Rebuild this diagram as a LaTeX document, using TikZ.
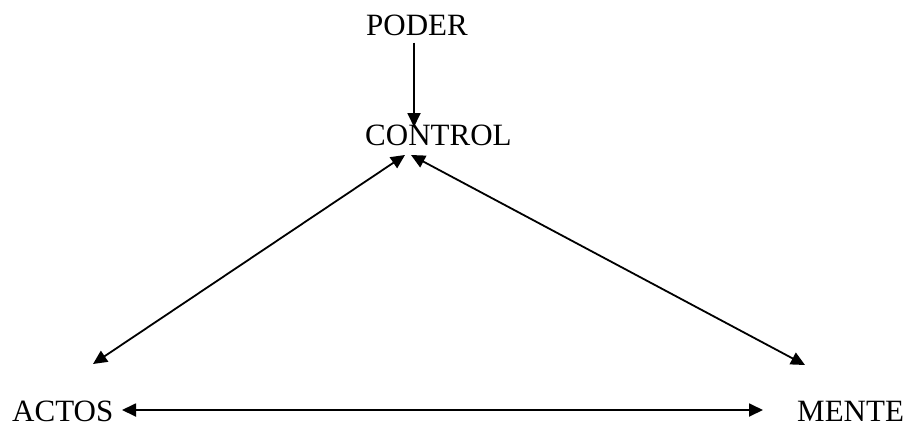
\documentclass[tikz,border=0pt]{standalone}
\usepackage{fontspec}
\setmainfont{Liberation Serif}
\usetikzlibrary{arrows.meta}
\tikzset{
  lbl/.style={inner sep=0pt, anchor=base west, font=\fontsize{31}{36}\selectfont},
  tip/.style={},
  conn/.style={line width=1.8pt, -{Triangle[length=14pt,width=13pt]}},
  dconn/.style={line width=1.8pt, {Triangle[length=14pt,width=13pt]}-{Triangle[length=14pt,width=13pt]}}
}
\begin{document}
\begin{tikzpicture}[x=1pt,y=-1pt]
\useasboundingbox (0,0) rectangle (906,426);
\node[lbl] (poder) at (366,35) {PODER};
\node[lbl] (control) at (365,145) {CONTROL};
\node[lbl] (actos) at (12,421) {ACTOS};
\node[lbl] (mente) at (797,421) {MENTE};
\coordinate (pin) at (414,127);
\coordinate (cl) at (405,155);
\coordinate (cr) at (411,155);
\coordinate (al) at (93,364);
\coordinate (mr) at (805,365);
\coordinate (ah) at (122,410);
\coordinate (mh) at (763,410);
\draw[conn] (poder.south -| pin) ++(0,7) -- (pin);
\draw[dconn] (al) -- (cl);
\draw[dconn] (cr) -- (mr);
\draw[dconn] (ah) -- (mh);
\end{tikzpicture}
\end{document}
